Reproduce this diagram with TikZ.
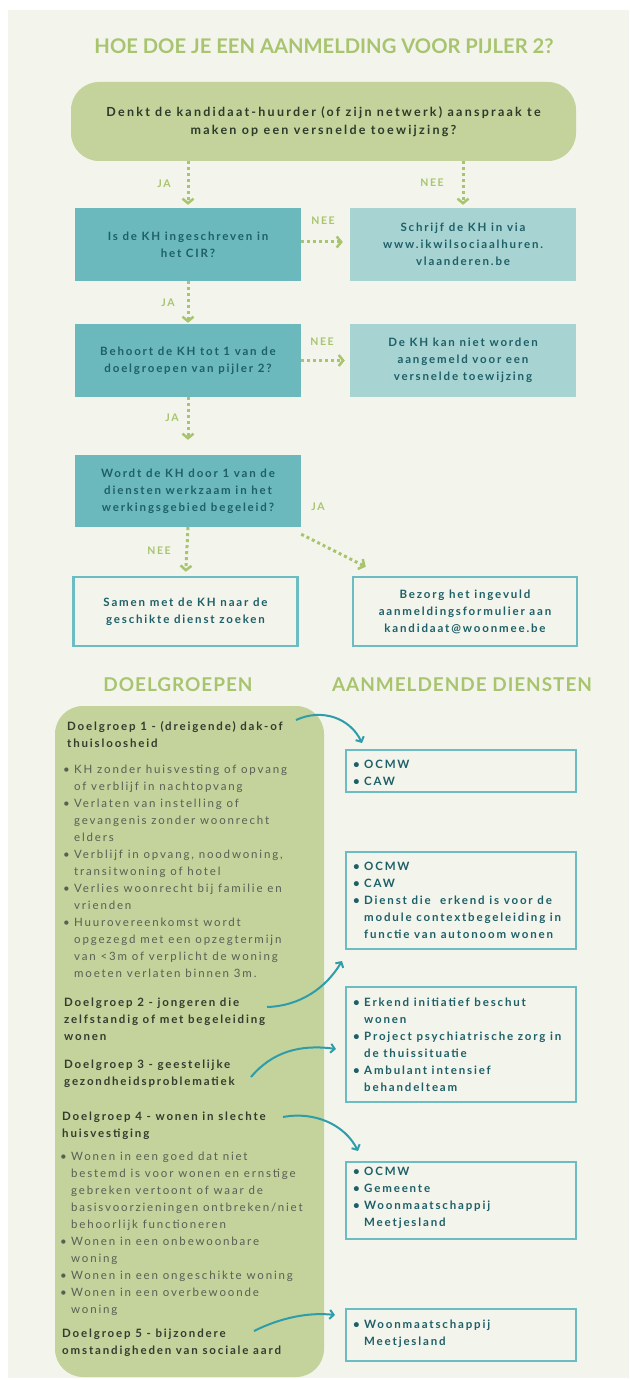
\documentclass[tikz,border=0pt]{standalone}
\usepackage{fontspec}
\setmainfont{Lato}
\newfontfamily\bodyfont[LetterSpace=16]{Lato}
\newfontfamily\topfont[LetterSpace=18]{Lato}
\newfontfamily\lblfont[LetterSpace=15]{Lato}
\newfontfamily\titlefont{Lato}
\newfontfamily\headfont[LetterSpace=5]{Lato}
\usetikzlibrary{arrows.meta,calc}
\definecolor{bgc}{HTML}{F3F5EC}
\definecolor{titlegreen}{HTML}{A8C46F}
\definecolor{panelgreen}{HTML}{C3D39B}
\definecolor{darkteal}{HTML}{6BB9BD}
\definecolor{lightteal}{HTML}{A7D4D2}
\definecolor{tealtext}{HTML}{1E5F68}
\definecolor{tealborder}{HTML}{6BBCC3}
\definecolor{curveteal}{HTML}{2D9DAA}
\definecolor{headtext}{HTML}{363B30}
\definecolor{listtext}{HTML}{5A5E55}
\definecolor{toptext}{HTML}{2E3A2A}
\newcommand\itemb{\makebox[11pt][l]{\textbullet}}
\newcommand\itemc{\hspace*{11pt}}
\begin{document}
\begin{tikzpicture}[x=1pt,y=-1pt,
  txt/.style={font=\bodyfont\bfseries\fontsize{11.5}{17}\selectfont},
  boxtxt/.style={txt, align=center, text=tealtext, inner sep=0pt},
  darkbox/.style={boxtxt, fill=darkteal, minimum width=226pt, minimum height=73pt},
  lightbox/.style={boxtxt, fill=lightteal, minimum width=226pt, minimum height=73pt},
  framebox/.style={boxtxt, draw=tealborder, line width=2.5pt, minimum width=224pt, minimum height=69pt},
  rframe/.style={draw=tealborder, line width=2.5pt},
  lbl/.style={font=\lblfont\bfseries\fontsize{10.5}{12}\selectfont, text=titlegreen, inner sep=0pt},
  dotarrow/.style={draw=titlegreen, line width=3pt, dash pattern=on 3pt off 3pt,
    -{Straight Barb[length=4.5pt,width=11pt,line width=2.5pt]}},
  curvearrow/.style={draw=curveteal, line width=2pt,
    -{Straight Barb[length=4pt,width=9pt,line width=2pt]}},
  headtxt/.style={txt, align=left, text=headtext, inner sep=0pt, anchor=west},
  listtxt/.style={font=\bodyfont\fontsize{11.5}{17}\selectfont,
    align=left, text=listtext, inner sep=0pt, anchor=west},
  servtxt/.style={txt, align=left, text=tealtext, inner sep=0pt, anchor=west},
  bigtitle/.style={font=\titlefont\bfseries\fontsize{20.2}{24}\selectfont, text=titlegreen, inner sep=0pt},
  sectitle/.style={font=\headfont\bfseries\fontsize{19}{22}\selectfont, text=titlegreen, inner sep=0pt}
]
\useasboundingbox (0,0) rectangle (629,1380);
\fill[white] (0,0) rectangle (629,1380);
\fill[bgc] (8,10) rectangle (629,1378);

% title
\node[bigtitle] (title) at (324,46) {HOE DOE JE EEN AANMELDING VOOR PIJLER 2?};

% flowchart
\node[boxtxt, text=toptext, fill=panelgreen, rounded corners=28pt, minimum width=505pt, minimum height=79pt,
  font=\topfont\bfseries\fontsize{12.5}{18}\selectfont] (top) at (323.5,121.5)
  {Denkt de kandidaat-huurder (of zijn netwerk) aanspraak te\\maken op een versnelde toewijzing?};

\node[darkbox] (b1) at (188,244.5) {Is de KH ingeschreven in\\het CIR?};
\node[lightbox] (r1) at (463,244.5) {Schrijf de KH in via\\www.ikwilsociaalhuren.\\vlaanderen.be};
\node[darkbox] (b2) at (188,360.5) {Behoort de KH tot 1 van de\\doelgroepen van pijler 2?};
\node[lightbox] (r2) at (463,360.5) {De KH kan niet worden\\aangemeld voor een\\versnelde toewijzing};
\node[darkbox, minimum height=72pt] (b3) at (188,491) {Wordt de KH door 1 van de\\diensten werkzaam in het\\werkingsgebied begeleid?};
\node[framebox] (b4) at (185.5,611.5) {Samen met de KH naar de\\geschikte dienst zoeken};
\node[framebox] (b5) at (465,611.5) {Bezorg het ingevuld\\aanmeldingsformulier aan\\kandidaat@woonmee.be};

\coordinate (jaend) at ($(b5.north west)+(14,-9)$);

\draw[dotarrow, shorten >=3pt] (top.south -| b1.north) -- (b1.north);
\draw[dotarrow, shorten >=3pt] (top.south -| r1.north) -- (r1.north);
\draw[dotarrow, shorten >=7pt] ([yshift=2.5pt]b1.east) -- ([yshift=2.5pt]b1.east -| r1.west);
\draw[dotarrow, shorten >=1pt] (b1.south) -- (b2.north);
\draw[dotarrow, shorten >=5pt] (b2.east) -- (r2.west);
\draw[dotarrow, shorten >=15pt] (b2.south) -- (b3.north);
\draw[dotarrow] ([yshift=-7pt]b3.south east) -- (jaend);
\draw[dotarrow, shorten >=4pt] (b3.south) -- (b4.north);

\node[lbl] (l1) at (164,184) {JA};
\node[lbl] (l2) at (432,183) {NEE};
\node[lbl] (l3) at (323,221) {NEE};
\node[lbl] (l4) at (168,303) {JA};
\node[lbl] (l5) at (322,342) {NEE};
\node[lbl] (l6) at (172,418) {JA};
\node[lbl] (l7) at (318,507) {JA};
\node[lbl] (l8) at (159,551) {NEE};

% section headings
\node[sectitle] (hdg1) at (178,685) {DOELGROEPEN};
\node[sectitle] (hdg2) at (462,685) {AANMELDENDE DIENSTEN};

% left panel
\fill[panelgreen, rounded corners=28pt] (55,706) rectangle (324,1377);

\node[headtxt] (dg1) at (67,735) {Doelgroep 1 - (dreigende) dak-of\\thuisloosheid};
\node[listtxt] (dg1l) at (63,871) {\itemb KH zonder huisvesting of opvang\\
\itemc of verblijf in nachtopvang\\
\itemb Verlaten van instelling of\\
\itemc gevangenis zonder woonrecht\\
\itemc elders\\
\itemb Verblijf in opvang, noodwoning,\\
\itemc transitwoning of hotel\\
\itemb Verlies woonrecht bij familie en\\
\itemc vrienden\\
\itemb Huurovereenkomst wordt\\
\itemc opgezegd met een opzegtermijn\\
\itemc van <3m of verplicht de woning\\
\itemc moeten verlaten binnen 3m.};
\node[headtxt] (dg2) at (64,1019) {Doelgroep 2 - jongeren die\\zelfstandig of met begeleiding\\wonen};
\node[headtxt] (dg3) at (64,1073.5) {Doelgroep 3 - geestelijke\\gezondheidsproblematiek};
\node[headtxt] (dg4) at (62,1126) {Doelgroep 4 - wonen in slechte\\huisvestiging};
\node[listtxt] (dg4l) at (60,1234) {\itemb Wonen in een goed dat niet\\
\itemc bestemd is voor wonen en ernstige\\
\itemc gebreken vertoont of waar de\\
\itemc basisvoorzieningen ontbreken/niet\\
\itemc behoorlijk functioneren\\
\itemb Wonen in een onbewoonbare\\
\itemc woning\\
\itemb Wonen in een ongeschikte woning\\
\itemb Wonen in een overbewoonde\\
\itemc woning};
\node[headtxt] (dg5) at (62,1342.5) {Doelgroep 5 - bijzondere\\omstandigheden van sociale aard};

% service boxes
\draw[rframe] (346,750) rectangle (576,792);
\draw[rframe] (346,852) rectangle (576,949);
\draw[rframe] (346,987) rectangle (576,1102);
\draw[rframe] (346,1162) rectangle (576,1239);
\draw[rframe] (346,1309) rectangle (576,1361);

\node[servtxt] (s1) at (353,772.5) {\itemb OCMW\\\itemb CAW};
\node[servtxt] (s2) at (353,900) {\itemb OCMW\\\itemb CAW\\\itemb Dienst die\ \ erkend is voor de\\\itemc module contextbegeleiding in\\\itemc functie van autonoom wonen};
\node[servtxt] (s3) at (353,1044.5) {\itemb Erkend initiatief beschut\\\itemc wonen\\\itemb Project psychiatrische zorg in\\\itemc de thuissituatie\\\itemb Ambulant intensief\\\itemc behandelteam};
\node[servtxt] (s4) at (353,1197.5) {\itemb OCMW\\\itemb Gemeente\\\itemb Woonmaatschappij\\\itemc Meetjesland};
\node[servtxt] (s5) at (353,1333.5) {\itemb Woonmaatschappij\\\itemc Meetjesland};

% curved arrows
\coordinate (c1s) at (296,720); \coordinate (c1e) at (362,743);
\coordinate (c2s) at (267,1007); \coordinate (c2e) at (342,961);
\coordinate (c3s) at (251,1077); \coordinate (c3e) at (336,1049);
\coordinate (c4s) at (283,1117); \coordinate (c4e) at (358,1151);
\coordinate (c5s) at (254,1331); \coordinate (c5e) at (335,1315);
\draw[curvearrow] (c1s) .. controls (322,708) and (350,718) .. (c1e);
\draw[curvearrow] (c2s) .. controls (300,1006) and (326,988) .. (c2e);
\draw[curvearrow] (c3s) .. controls (272,1052) and (300,1044) .. (c3e);
\draw[curvearrow] (c4s) .. controls (315,1111) and (345,1125) .. (c4e);
\draw[curvearrow] (c5s) .. controls (280,1318) and (308,1312) .. (c5e);
\end{tikzpicture}
\end{document}
